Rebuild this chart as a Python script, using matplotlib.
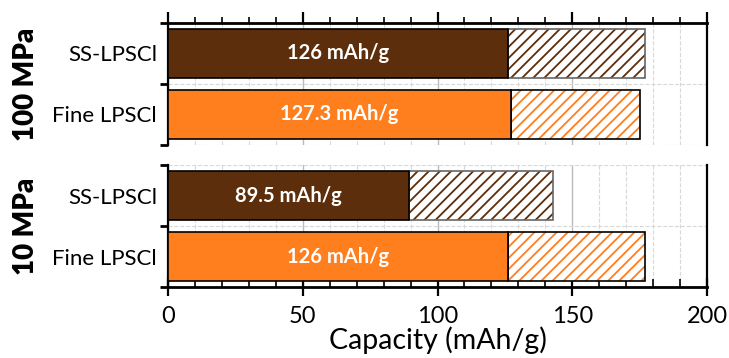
import matplotlib
matplotlib.use("Agg")
import matplotlib.pyplot as plt
import numpy as np

plt.rcParams['font.family'] = ['Lato', 'DejaVu Sans']
plt.rcParams['hatch.linewidth'] = 1.3

# data
groups = ['100 MPa', '10 MPa']
materials = ['Fine LPSCl', 'SS-LPSCl']          # bottom -> top inside each panel
solid_vals = {'100 MPa': [127.3, 126.0], '10 MPa': [126.0, 89.5]}
total_vals = {'100 MPa': [175.0, 177.0], '10 MPa': [177.0, 143.0]}
labels = {'100 MPa': ['127.3 mAh/g', '126 mAh/g'], '10 MPa': ['126 mAh/g', '89.5 mAh/g']}

colors = ['#FF7F1E', '#5C2E0B']
hatch_edges = ['black', '#666666']

fig = plt.figure(figsize=(7.29, 3.58), dpi=100)
ax_top = fig.add_axes([0.2305, 0.595, 0.7393, 0.341])
ax_bot = fig.add_axes([0.2305, 0.198, 0.7393, 0.341])

for ax, grp in zip([ax_top, ax_bot], groups):
    y = np.arange(len(materials))
    solid = solid_vals[grp]
    total = total_vals[grp]
    rest = [t - s for t, s in zip(total, solid)]
    for i in range(len(materials)):
        ax.barh(y[i], rest[i], left=solid[i], height=0.8, color='white',
                edgecolor=colors[i], hatch='///', linewidth=0, zorder=3)
        ax.barh(y[i], rest[i], left=solid[i], height=0.8, fill=False,
                edgecolor=hatch_edges[i], linewidth=1.2, zorder=4)
        ax.barh(y[i], solid[i], height=0.8, color=colors[i],
                edgecolor='black', linewidth=1.2, zorder=4)
        ax.text(solid[i] / 2, y[i], labels[grp][i], ha='center', va='center',
                color='white', fontsize=14.5, fontweight='bold', zorder=5)

    ax.set_xlim(0, 200)
    ax.set_ylim(-0.5, 1.5)
    ax.set_yticks(y)
    ax.set_yticklabels(materials, fontsize=16)
    ax.set_yticks([-0.5, 0.5, 1.5], minor=True)
    ax.tick_params(axis='y', which='major', length=0, pad=8)
    ax.tick_params(axis='y', which='minor', length=6, width=2, direction='out')
    ax.set_xticks([0, 50, 100, 150, 200])
    ax.set_xticks(np.arange(0, 201, 10), minor=True)
    ax.grid(axis='x', which='major', color='#BBBBBB', linewidth=1, zorder=0)
    ax.grid(axis='x', which='minor', color='#D8D8D8', linestyle='--', linewidth=0.8, zorder=0)
    ax.grid(axis='y', which='minor', color='#D8D8D8', linestyle='--', linewidth=0.8, zorder=0)
    ax.set_axisbelow(True)
    for s in ['left', 'right']:
        ax.spines[s].set_linewidth(1.6)

# top panel: axis on top, outward ticks, no bottom spine
ax_top.spines['bottom'].set_visible(False)
ax_top.spines['top'].set_linewidth(2)
ax_top.xaxis.tick_top()
ax_top.tick_params(axis='x', which='major', direction='out', length=8, width=1.6, labeltop=False)
ax_top.tick_params(axis='x', which='minor', direction='out', length=4, width=1.2)

# bottom panel: axis at bottom, no top spine
ax_bot.spines['top'].set_visible(False)
ax_bot.spines['bottom'].set_linewidth(2)
ax_bot.tick_params(axis='x', which='major', direction='inout', length=13, width=1.6,
                   labelsize=17, pad=7)
ax_bot.tick_params(axis='x', which='minor', direction='in', length=6, width=1.2)
ax_bot.set_xlabel('Capacity (mAh/g)', fontsize=20.5, labelpad=0)

fig.text(0.036, (0.595 + 0.936) / 2, groups[0], rotation=90, ha='center', va='center',
         fontsize=20, fontweight='heavy')
fig.text(0.036, (0.198 + 0.539) / 2, groups[1], rotation=90, ha='center', va='center',
         fontsize=20, fontweight='heavy')

fig.savefig('out.png', dpi=100)
